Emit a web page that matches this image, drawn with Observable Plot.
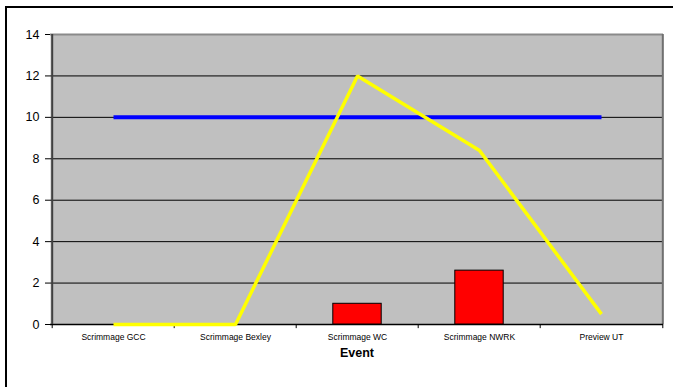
<!DOCTYPE html>
<html>
<head>
<meta charset="utf-8">
<script src="https://cdn.jsdelivr.net/npm/d3@7"></script>
<script src="https://cdn.jsdelivr.net/npm/@observablehq/plot@0.6"></script>
<style>
  html, body { margin: 0; padding: 0; background: #fff; }
  #wrap { position: relative; width: 673px; height: 387px; overflow: hidden; }
  #border { position: absolute; left: 5px; top: 6px; width: 900px; height: 600px;
            border-left: 2px solid #000; border-top: 2px solid #000; box-sizing: border-box; }
  #chart { position: absolute; left: 0; top: 0; }
  #chart [aria-label="y-axis tick label"] { font-size: 12.5px; }
  #chart [aria-label="x-axis tick label"] { font-size: 8.5px; }
</style>
</head>
<body>
<div id="wrap"><div id="border"></div><div id="chart"></div></div>
<script>
const categories = ["Scrimmage GCC", "Scrimmage Bexley", "Scrimmage WC", "Scrimmage NWRK", "Preview UT"];
const barValues = [0, 0, 1.0, 2.6, 0];
const yellowValues = [0, 0, 12, 8.4, 0.5];
const blueValues = [10, 10, 10, 10, 10];
const yTicks = [0, 2, 4, 6, 8, 10, 12, 14];
const gridTicks = [2, 4, 6, 8, 10, 12];
const xTitle = "Event";

const W = 673, H = 387, mL = 50, mR = 10, mT = 34, mB = 63;
const bw = (W - mL - mR) / categories.length;

const bars = categories.map((c, i) => ({c, v: barValues[i]})).filter(d => d.v > 0);
const yellow = categories.map((c, i) => ({c, v: yellowValues[i]}));
const blue = categories.map((c, i) => ({c, v: blueValues[i]}));

const chart = Plot.plot({
  width: W, height: H,
  marginLeft: mL, marginRight: mR, marginTop: mT, marginBottom: mB,
  style: {fontFamily: "'Liberation Sans', Arial, sans-serif", color: "#000", background: "transparent"},
  x: {type: "band", domain: categories, padding: 0, label: null},
  y: {domain: [0, 14], label: null},
  marks: [
    Plot.frame({fill: "#c0c0c0", stroke: null}),
    Plot.ruleY(gridTicks, {stroke: "#000", strokeWidth: 1}),
    Plot.ruleY([14], {stroke: "#8a8a8a", strokeWidth: 2}),
    Plot.ruleX([categories[categories.length - 1]], {dx: bw / 2, stroke: "#707070", strokeWidth: 2}),
    Plot.ruleX(categories, {x: d => d, dx: -bw / 2, y1: 0, y2: -0.2, stroke: "#000"}),
    Plot.ruleX([categories[categories.length - 1]], {dx: bw / 2, y1: 0, y2: -0.2, stroke: "#000"}),
    Plot.ruleY([0], {stroke: "#000", strokeWidth: 1.5}),
    Plot.ruleX([categories[0]], {dx: -bw / 2, stroke: "#404040", strokeWidth: 2}),
    Plot.barY(bars, {x: "c", y: "v", fill: "#ff0000", stroke: "#000", strokeWidth: 1, insetLeft: (bw - 49) / 2, insetRight: (bw - 49) / 2}),
    Plot.line(blue, {x: "c", y: "v", stroke: "#0000ff", strokeWidth: 4, strokeLinecap: "butt"}),
    Plot.line(yellow, {x: "c", y: "v", stroke: "#ffff00", strokeWidth: 3.5, strokeLinecap: "butt", strokeLinejoin: "miter"}),
    Plot.axisY({ticks: yTicks, tickSize: 5, tickPadding: 6, fontSize: 12.5, label: null, stroke: "#000"}),
    Plot.axisX({tickSize: 0, tickPadding: 9, fontSize: 8.5, label: null}),
    Plot.text([xTitle], {frameAnchor: "bottom", dy: 32, fontSize: 12.5, fontWeight: "bold", fill: "#000"})
  ]
});
document.getElementById("chart").appendChild(chart);
</script>
</body>
</html>
